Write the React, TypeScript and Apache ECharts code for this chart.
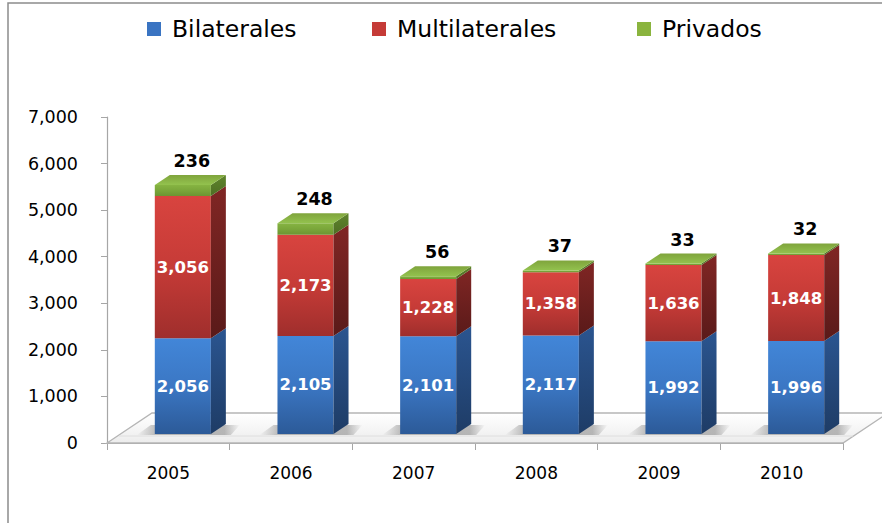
import React, { useEffect, useRef } from "react";
import * as echarts from "echarts";

const years = ["2005", "2006", "2007", "2008", "2009", "2010"];
const bilaterales = [2056, 2105, 2101, 2117, 1992, 1996];
const multilaterales = [3056, 2173, 1228, 1358, 1636, 1848];
const privados = [236, 248, 56, 37, 33, 32];
const seriesNames = ["Bilaterales", "Multilaterales", "Privados"];
const yTicks = { min: 0, max: 7000, interval: 1000 };

const BAR_FRAC = 0.457;
const DX = 15;
const DY = -10;
const SHIFT_X = 14.5;
const SHIFT_Y = -9;
const FONT = '"DejaVu Sans", Verdana, sans-serif';

const palette = [
  {
    legend: "#3a74c2",
    front: ["#4286d8", "#3b77c4", "#2c5a98"],
    side: ["#2b5590", "#1e3c66"],
    top: ["#5c95dd", "#4a86d4"],
  },
  {
    legend: "#c53b37",
    front: ["#d8443f", "#c63b37", "#9f2e2c"],
    side: ["#802624", "#5a1a19"],
    top: ["#e06a66", "#d4504c"],
  },
  {
    legend: "#8ab43e",
    front: ["#86b442", "#7aa63a", "#6c9532"],
    side: ["#5f842c", "#4e6e24"],
    top: ["#7fa43c", "#93c24e"],
  },
];

const fmt = (v: number) => v.toLocaleString("en-US");

function vgrad(stops: string[]) {
  return {
    type: "linear",
    x: 0,
    y: 0,
    x2: 0,
    y2: 1,
    colorStops: stops.map((c, i) => ({ offset: i / (stops.length - 1), color: c })),
  };
}

function barGeom(api: any, i: number, lo: number, hi: number) {
  const pLo = api.coord([i, lo]);
  const pHi = api.coord([i, hi]);
  const bw = api.size([1, 0])[0] * BAR_FRAC;
  const x = pLo[0] - bw / 2 + SHIFT_X;
  const yb = pLo[1] + SHIFT_Y;
  const yt = pHi[1] + SHIFT_Y;
  return { x, yb, yt, bw };
}

function makeRender(k: number) {
  return (params: any, api: any) => {
    const i = api.value(0);
    const lo = api.value(1);
    const hi = api.value(2);
    const v = api.value(3);
    const { x, yb, yt, bw } = barGeom(api, i, lo, hi);
    const pal = palette[k];
    const children: any[] = [
      {
        type: "rect",
        shape: { x, y: yt, width: bw, height: Math.max(yb - yt, 0.5) },
        style: { fill: vgrad(pal.front) },
      },
      {
        type: "polygon",
        shape: {
          points: [
            [x + bw, yt],
            [x + bw + DX, yt + DY],
            [x + bw + DX, yb + DY],
            [x + bw, yb],
          ],
        },
        style: { fill: vgrad(pal.side) },
      },
    ];
    const isTop = k === palette.length - 1;
    if (isTop) {
      children.push({
        type: "polygon",
        shape: {
          points: [
            [x, yt],
            [x + DX, yt + DY],
            [x + bw + DX, yt + DY],
            [x + bw, yt],
          ],
        },
        style: { fill: vgrad(pal.top) },
      });
      children.push({
        type: "text",
        x: x + bw / 2 + 9,
        y: yt - 15,
        style: {
          text: fmt(v),
          fill: "#000000",
          font: `bold 17.5px ${FONT}`,
          textAlign: "center",
          textVerticalAlign: "bottom",
        },
      });
    } else {
      children.push({
        type: "text",
        x: x + bw / 2,
        y: (yt + yb) / 2,
        style: {
          text: fmt(v),
          fill: "#ffffff",
          font: `bold 16.5px ${FONT}`,
          textAlign: "center",
          textVerticalAlign: "middle",
        },
      });
    }
    return { type: "group", children };
  };
}

function renderFloor(params: any, api: any) {
  const cs = params.coordSys;
  const i = api.value(0);
  const x0 = cs.x;
  const y0 = cs.y + cs.height;
  const children: any[] = [];
  if (i === 0) {
    children.push({
      type: "polygon",
      shape: {
        points: [
          [x0, y0],
          [x0 + 45, y0 - 30],
          [x0 + cs.width + 45, y0 - 30],
          [x0 + cs.width, y0],
        ],
      },
      style: { fill: vgrad(["#ffffff", "#f6f6f6", "#ececec"]), stroke: "#b5b5b5", lineWidth: 1.3 },
    });
    children.push({
      type: "line",
      shape: { x1: x0 + 12, y1: y0 - 7, x2: x0 + cs.width + 10, y2: y0 - 7 },
      style: { stroke: "#dedede", lineWidth: 1 },
    });
  }
  const { x, yb, bw } = barGeom(api, i, 0, 0);
  children.push({
    type: "polygon",
    shape: {
      points: [
        [x - 18, yb + 1],
        [x - 4, yb - 9],
        [x + bw + DX + 14, yb - 9],
        [x + bw + 20, yb + 1],
      ],
    },
    style: {
      fill: {
        type: "linear",
        x: 0,
        y: 0,
        x2: 1,
        y2: 0,
        colorStops: [
          { offset: 0, color: "rgba(140,140,140,0)" },
          { offset: 0.2, color: "rgba(140,140,140,0.6)" },
          { offset: 0.85, color: "rgba(140,140,140,0.6)" },
          { offset: 1, color: "rgba(140,140,140,0)" },
        ],
      },
    },
  });
  return { type: "group", children };
}

export default function App() {
  const ref = useRef<HTMLDivElement>(null);
  useEffect(() => {
    if (!ref.current) return;
    const chart = echarts.init(ref.current, null, { renderer: "svg" });
    const values = [bilaterales, multilaterales, privados];
    const bases = years.map(() => 0);
    const stackSeries = values.map((arr, k) => {
      const data = arr.map((v, i) => {
        const lo = bases[i];
        bases[i] += v;
        return [i, lo, lo + v, v];
      });
      return {
        name: seriesNames[k],
        type: "custom",
        renderItem: makeRender(k),
        data,
        encode: { x: 0, y: [1, 2] },
        itemStyle: { color: palette[k].legend },
        z: 3,
      };
    });
    const legendLefts = [147, 372, 637];
    chart.setOption({
      animation: false,
      backgroundColor: "#ffffff",
      grid: { left: 107, right: 39, top: 117, bottom: 80, containLabel: false },
      legend: seriesNames.map((n, k) => ({
        data: [n],
        left: legendLefts[k],
        top: 17,
        padding: 0,
        icon: "rect",
        itemWidth: 14,
        itemHeight: 14,
        textStyle: {
          fontFamily: FONT,
          fontSize: 23.5,
          color: "#000000",
          padding: [0, 0, 0, 6],
        },
      })),
      xAxis: {
        type: "category",
        data: years,
        boundaryGap: true,
        axisLine: { show: true, lineStyle: { color: "#a6a6a6", width: 1.2 } },
        axisTick: { show: true, length: 7, alignWithLabel: false, lineStyle: { color: "#a6a6a6" } },
        axisLabel: { fontFamily: FONT, fontSize: 17, color: "#000000", margin: 21 },
        splitLine: { show: false },
      },
      yAxis: {
        type: "value",
        min: yTicks.min,
        max: yTicks.max,
        interval: yTicks.interval,
        axisLine: { show: true, lineStyle: { color: "#a6a6a6", width: 1.2 } },
        axisTick: { show: true, length: 6, lineStyle: { color: "#a6a6a6" } },
        axisLabel: {
          fontFamily: FONT,
          fontSize: 17.5,
          color: "#000000",
          margin: 29,
          formatter: (v: number) => fmt(v),
        },
        splitLine: { show: false },
      },
      graphic: [
        {
          type: "rect",
          shape: { x: 8, y: 3, width: 1000, height: 1000 },
          style: { fill: "none", stroke: "#8c8c8c", lineWidth: 1.5 },
          silent: true,
          z: -10,
        },
      ],
      series: [
        {
          type: "custom",
          name: "floor",
          renderItem: renderFloor,
          data: years.map((_, i) => [i, 0]),
          encode: { x: 0, y: 1 },
          silent: true,
          z: 1,
        },
        ...stackSeries,
      ],
    });
    return () => chart.dispose();
  }, []);
  return (
    <div
      ref={ref}
      style={{ position: "fixed", left: 0, top: 0, width: 882, height: 523 }}
    />
  );
}
